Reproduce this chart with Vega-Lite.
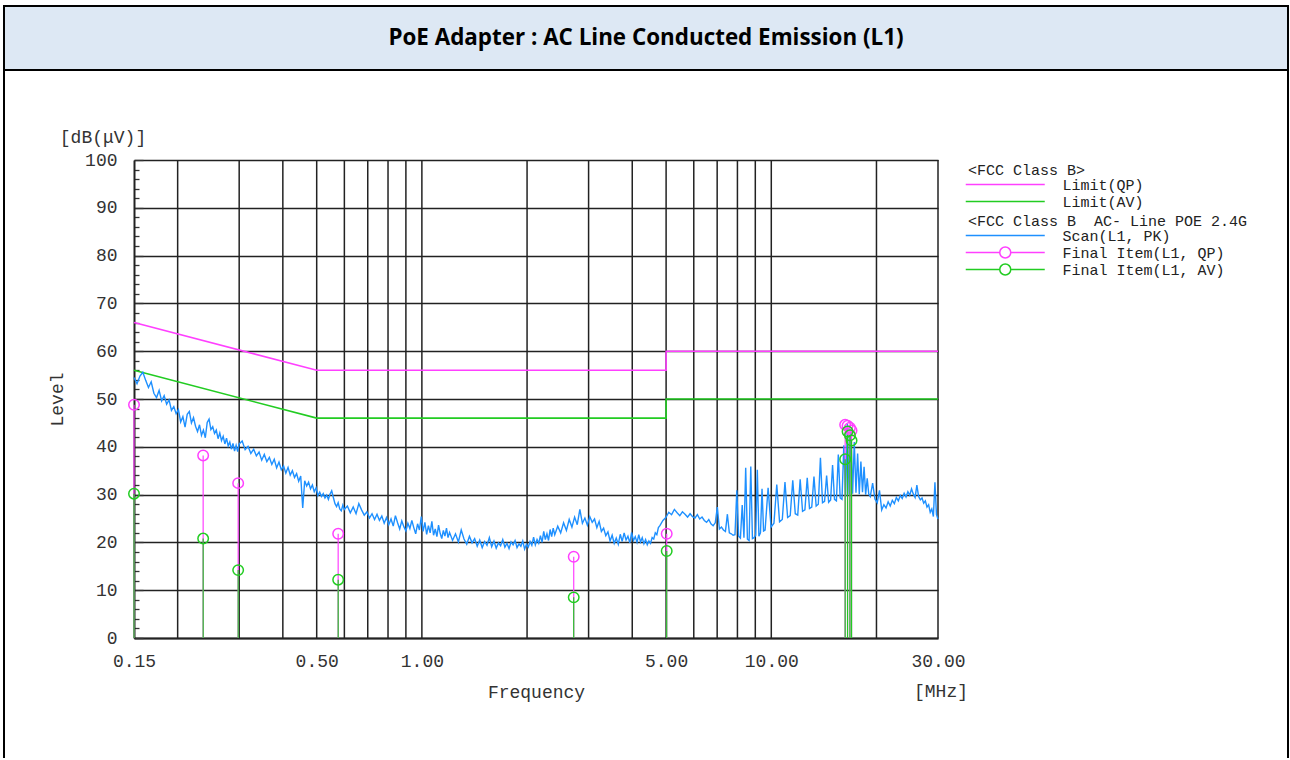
{
"$schema": "https://vega.github.io/schema/vega-lite/v6.json",
"background": "white",
"padding": {"left": 3, "top": 5, "right": 0, "bottom": 0},
"autosize": {"type": "pad"},
"spacing": 0,
"bounds": "flush",
"config": {"view": {"stroke": null}},
"datasets": {
"limits": [
{"f":0.15,"v":66,"s":"Limit(QP)","i":0},{"f":0.5,"v":56,"s":"Limit(QP)","i":1},{"f":5,"v":56,"s":"Limit(QP)","i":2},{"f":5,"v":60,"s":"Limit(QP)","i":3},{"f":30,"v":60,"s":"Limit(QP)","i":4},
{"f":0.15,"v":56,"s":"Limit(AV)","i":0},{"f":0.5,"v":46,"s":"Limit(AV)","i":1},{"f":5,"v":46,"s":"Limit(AV)","i":2},{"f":5,"v":50,"s":"Limit(AV)","i":3},{"f":30,"v":50,"s":"Limit(AV)","i":4}
],
"grid": [{"g":0.2},{"g":0.3},{"g":0.4},{"g":0.5},{"g":0.6},{"g":0.7},{"g":0.8},{"g":0.9},{"g":1},{"g":2},{"g":3},{"g":4},{"g":5},{"g":6},{"g":7},{"g":8},{"g":9},{"g":10},{"g":20},{"g":30}],
"qp": [{"f":0.15,"v":48.8},{"f":0.2366,"v":38.2},{"f":0.298,"v":32.4},{"f":0.576,"v":21.8},{"f":2.72,"v":17.0},{"f":5.02,"v":21.8},{"f":16.27,"v":44.6},{"f":16.53,"v":44.4},{"f":16.79,"v":44.0},{"f":16.97,"v":43.4}],
"av": [{"f":0.15,"v":30.2},{"f":0.2366,"v":20.8},{"f":0.298,"v":14.2},{"f":0.576,"v":12.2},{"f":2.72,"v":8.5},{"f":5.02,"v":18.2},{"f":16.27,"v":37.4},{"f":16.53,"v":43.2},{"f":16.79,"v":42.4},{"f":16.97,"v":41.3}],
"scan": [
{"f":0.150,"v":54.5},{"f":0.153,"v":53.2},{"f":0.156,"v":54.8},{"f":0.159,"v":55.6},{"f":0.162,"v":53.9},{"f":0.165,"v":52.4},{"f":0.168,"v":53.6},{"f":0.171,"v":51.2},{"f":0.174,"v":50.3},{"f":0.177,"v":51.8},
{"f":0.180,"v":49.6},{"f":0.183,"v":50.7},{"f":0.186,"v":48.9},{"f":0.189,"v":49.8},{"f":0.192,"v":47.6},{"f":0.195,"v":48.4},{"f":0.198,"v":46.9},{"f":0.201,"v":47.8},{"f":0.204,"v":45.2},{"f":0.207,"v":46.3},
{"f":0.210,"v":44.1},{"f":0.213,"v":46.8},{"f":0.216,"v":47.4},{"f":0.219,"v":45.0},{"f":0.222,"v":46.1},{"f":0.225,"v":44.3},{"f":0.228,"v":43.2},{"f":0.231,"v":44.6},{"f":0.234,"v":42.4},{"f":0.237,"v":43.5},
{"f":0.240,"v":41.9},{"f":0.243,"v":45.1},{"f":0.246,"v":45.8},{"f":0.249,"v":43.6},{"f":0.252,"v":44.2},{"f":0.255,"v":42.8},{"f":0.258,"v":43.5},{"f":0.261,"v":41.7},{"f":0.264,"v":42.9},{"f":0.267,"v":41.3},
{"f":0.270,"v":42.2},{"f":0.273,"v":40.6},{"f":0.276,"v":41.8},{"f":0.279,"v":40.2},{"f":0.282,"v":41.0},{"f":0.285,"v":39.5},{"f":0.288,"v":40.7},{"f":0.291,"v":39.1},{"f":0.294,"v":40.3},{"f":0.297,"v":39.0},
{"f":0.300,"v":40.6},{"f":0.306,"v":41.2},{"f":0.312,"v":39.4},{"f":0.318,"v":40.1},{"f":0.324,"v":38.6},{"f":0.330,"v":39.5},{"f":0.336,"v":38.1},{"f":0.342,"v":38.9},{"f":0.348,"v":37.2},{"f":0.354,"v":38.4},
{"f":0.360,"v":36.9},{"f":0.366,"v":37.8},{"f":0.372,"v":36.3},{"f":0.378,"v":37.4},{"f":0.384,"v":35.6},{"f":0.390,"v":36.8},{"f":0.396,"v":35.2},{"f":0.402,"v":36.0},{"f":0.408,"v":34.5},{"f":0.414,"v":35.7},
{"f":0.420,"v":34.1},{"f":0.426,"v":35.0},{"f":0.432,"v":33.6},{"f":0.438,"v":34.4},{"f":0.444,"v":32.8},{"f":0.450,"v":33.9},{"f":0.456,"v":27.2},{"f":0.462,"v":32.9},{"f":0.468,"v":31.8},{"f":0.474,"v":32.6},
{"f":0.480,"v":31.2},{"f":0.486,"v":32.0},{"f":0.492,"v":30.6},{"f":0.498,"v":31.4},{"f":0.504,"v":29.8},{"f":0.510,"v":30.5},{"f":0.516,"v":29.6},{"f":0.522,"v":30.2},{"f":0.528,"v":29.3},{"f":0.534,"v":29.9},
{"f":0.540,"v":29.0},{"f":0.546,"v":30.1},{"f":0.552,"v":30.8},{"f":0.558,"v":29.4},{"f":0.564,"v":28.1},{"f":0.570,"v":27.5},{"f":0.576,"v":28.3},{"f":0.582,"v":27.0},{"f":0.588,"v":26.6},{"f":0.594,"v":27.8},
{"f":0.600,"v":26.9},{"f":0.612,"v":27.6},{"f":0.624,"v":26.2},{"f":0.636,"v":27.4},{"f":0.648,"v":26.0},{"f":0.660,"v":28.1},{"f":0.672,"v":26.8},{"f":0.684,"v":25.7},{"f":0.696,"v":26.4},{"f":0.708,"v":25.1},
{"f":0.720,"v":26.0},{"f":0.732,"v":24.8},{"f":0.744,"v":25.9},{"f":0.756,"v":24.6},{"f":0.768,"v":25.5},{"f":0.780,"v":24.0},{"f":0.792,"v":25.2},{"f":0.804,"v":23.7},{"f":0.816,"v":24.9},{"f":0.828,"v":23.4},
{"f":0.840,"v":25.6},{"f":0.852,"v":24.1},{"f":0.864,"v":22.8},{"f":0.876,"v":24.5},{"f":0.888,"v":23.3},{"f":0.900,"v":22.4},{"f":0.912,"v":24.0},{"f":0.924,"v":22.9},{"f":0.936,"v":24.6},{"f":0.948,"v":23.1},
{"f":0.960,"v":21.8},{"f":0.972,"v":23.9},{"f":0.984,"v":22.6},{"f":0.996,"v":25.4},{"f":1.008,"v":22.3},{"f":1.020,"v":24.2},{"f":1.032,"v":21.7},{"f":1.044,"v":23.5},{"f":1.056,"v":22.0},{"f":1.068,"v":24.4},
{"f":1.080,"v":21.5},{"f":1.092,"v":22.8},{"f":1.104,"v":21.2},{"f":1.116,"v":23.6},{"f":1.128,"v":21.9},{"f":1.140,"v":20.8},{"f":1.152,"v":22.5},{"f":1.164,"v":21.3},{"f":1.176,"v":23.0},{"f":1.188,"v":21.0},
{"f":1.200,"v":22.1},{"f":1.224,"v":20.4},{"f":1.248,"v":21.8},{"f":1.272,"v":20.1},{"f":1.296,"v":22.6},{"f":1.320,"v":20.7},{"f":1.344,"v":19.6},{"f":1.368,"v":21.3},{"f":1.392,"v":19.9},{"f":1.416,"v":20.8},
{"f":1.440,"v":19.2},{"f":1.464,"v":20.5},{"f":1.488,"v":18.9},{"f":1.512,"v":20.2},{"f":1.536,"v":19.4},{"f":1.560,"v":21.0},{"f":1.584,"v":19.1},{"f":1.608,"v":20.3},{"f":1.632,"v":18.8},{"f":1.656,"v":19.9},
{"f":1.680,"v":19.3},{"f":1.704,"v":20.6},{"f":1.728,"v":19.0},{"f":1.752,"v":19.8},{"f":1.776,"v":18.7},{"f":1.800,"v":20.1},{"f":1.824,"v":19.5},{"f":1.848,"v":20.4},{"f":1.872,"v":18.9},{"f":1.896,"v":19.7},
{"f":1.920,"v":19.2},{"f":1.944,"v":20.3},{"f":1.968,"v":18.6},{"f":1.992,"v":19.6},{"f":2.016,"v":19.0},{"f":2.040,"v":20.2},{"f":2.064,"v":19.4},{"f":2.088,"v":21.1},{"f":2.112,"v":19.5},{"f":2.136,"v":20.6},
{"f":2.160,"v":19.8},{"f":2.184,"v":21.4},{"f":2.208,"v":20.0},{"f":2.232,"v":22.3},{"f":2.256,"v":20.6},{"f":2.280,"v":21.8},{"f":2.304,"v":20.4},{"f":2.328,"v":22.7},{"f":2.352,"v":21.2},{"f":2.376,"v":23.0},
{"f":2.400,"v":21.6},{"f":2.448,"v":23.4},{"f":2.496,"v":22.0},{"f":2.544,"v":24.1},{"f":2.592,"v":22.5},{"f":2.640,"v":24.8},{"f":2.688,"v":23.2},{"f":2.736,"v":25.3},{"f":2.784,"v":23.7},{"f":2.832,"v":26.9},
{"f":2.880,"v":24.0},{"f":2.928,"v":25.1},{"f":2.976,"v":23.6},{"f":3.024,"v":25.4},{"f":3.072,"v":24.2},{"f":3.120,"v":24.9},{"f":3.168,"v":23.1},{"f":3.216,"v":24.4},{"f":3.264,"v":22.3},{"f":3.312,"v":23.0},
{"f":3.360,"v":21.4},{"f":3.408,"v":22.2},{"f":3.456,"v":20.3},{"f":3.504,"v":21.5},{"f":3.552,"v":19.8},{"f":3.600,"v":20.9},{"f":3.648,"v":19.6},{"f":3.696,"v":21.7},{"f":3.744,"v":20.2},{"f":3.792,"v":22.0},
{"f":3.840,"v":20.5},{"f":3.888,"v":21.3},{"f":3.936,"v":19.9},{"f":3.984,"v":22.1},{"f":4.032,"v":20.4},{"f":4.080,"v":21.2},{"f":4.128,"v":20.0},{"f":4.176,"v":21.6},{"f":4.224,"v":20.1},{"f":4.272,"v":21.0},
{"f":4.320,"v":19.7},{"f":4.368,"v":20.6},{"f":4.416,"v":19.5},{"f":4.464,"v":20.3},{"f":4.512,"v":19.8},{"f":4.560,"v":21.0},{"f":4.608,"v":20.7},{"f":4.656,"v":22.0},{"f":4.704,"v":21.6},{"f":4.752,"v":23.1},
{"f":4.800,"v":23.5},{"f":4.896,"v":24.6},{"f":4.992,"v":25.2},{"f":5.088,"v":26.3},{"f":5.184,"v":25.8},{"f":5.280,"v":26.9},{"f":5.376,"v":26.2},{"f":5.472,"v":25.6},{"f":5.568,"v":26.4},{"f":5.664,"v":25.9},
{"f":5.760,"v":25.3},{"f":5.856,"v":26.0},{"f":5.952,"v":25.4},{"f":6.048,"v":25.1},{"f":6.144,"v":25.8},{"f":6.240,"v":24.9},{"f":6.336,"v":25.3},{"f":6.432,"v":24.6},{"f":6.528,"v":24.2},{"f":6.624,"v":24.8},
{"f":6.720,"v":23.9},{"f":6.816,"v":23.5},{"f":6.912,"v":24.1},{"f":7.008,"v":27.4},{"f":7.104,"v":22.8},{"f":7.200,"v":23.2},{"f":7.296,"v":22.6},{"f":7.392,"v":22.3},{"f":7.488,"v":25.9},{"f":7.584,"v":22.0},
{"f":7.680,"v":21.8},{"f":7.776,"v":21.5},{"f":7.872,"v":21.6},{"f":7.968,"v":30.9},{"f":8.064,"v":21.3},{"f":8.160,"v":20.9},{"f":8.256,"v":27.8},{"f":8.352,"v":21.0},{"f":8.448,"v":35.6},{"f":8.544,"v":20.7},
{"f":8.640,"v":20.4},{"f":8.736,"v":35.9},{"f":8.832,"v":20.8},{"f":8.928,"v":21.0},{"f":9.024,"v":21.5},{"f":9.120,"v":35.2},{"f":9.216,"v":21.3},{"f":9.312,"v":22.0},{"f":9.408,"v":31.2},{"f":9.504,"v":22.4},
{"f":9.600,"v":22.6},{"f":9.792,"v":31.4},{"f":9.984,"v":23.2},{"f":10.176,"v":24.0},{"f":10.368,"v":32.1},{"f":10.560,"v":24.3},{"f":10.752,"v":24.8},{"f":10.944,"v":32.6},{"f":11.136,"v":25.2},{"f":11.328,"v":25.6},
{"f":11.520,"v":33.0},{"f":11.712,"v":26.0},{"f":11.904,"v":25.7},{"f":12.096,"v":33.2},{"f":12.288,"v":26.5},{"f":12.480,"v":26.8},{"f":12.672,"v":33.5},{"f":12.864,"v":27.1},{"f":13.056,"v":27.4},{"f":13.248,"v":33.8},
{"f":13.440,"v":27.6},{"f":13.632,"v":28.0},{"f":13.824,"v":37.7},{"f":14.016,"v":28.3},{"f":14.208,"v":28.6},{"f":14.400,"v":34.0},{"f":14.592,"v":28.4},{"f":14.784,"v":28.9},{"f":14.976,"v":36.2},{"f":15.168,"v":29.0},
{"f":15.360,"v":28.7},{"f":15.552,"v":38.4},{"f":15.744,"v":29.3},{"f":15.936,"v":29.0},{"f":16.128,"v":40.3},{"f":16.320,"v":29.6},{"f":16.512,"v":44.8},{"f":16.704,"v":30.0},{"f":16.896,"v":43.2},{"f":17.088,"v":30.2},
{"f":17.280,"v":41.0},{"f":17.472,"v":30.4},{"f":17.664,"v":38.6},{"f":17.856,"v":30.1},{"f":18.048,"v":36.9},{"f":18.240,"v":30.5},{"f":18.432,"v":35.8},{"f":18.624,"v":30.0},{"f":18.816,"v":33.4},{"f":19.008,"v":30.1},
{"f":19.200,"v":29.6},{"f":19.500,"v":32.4},{"f":19.800,"v":29.1},{"f":20.100,"v":28.3},{"f":20.400,"v":30.9},{"f":20.700,"v":26.8},{"f":21.000,"v":27.9},{"f":21.300,"v":27.2},{"f":21.600,"v":28.5},{"f":21.900,"v":27.6},
{"f":22.200,"v":28.8},{"f":22.500,"v":28.1},{"f":22.800,"v":29.4},{"f":23.100,"v":28.7},{"f":23.400,"v":29.8},{"f":23.700,"v":29.2},{"f":24.000,"v":30.3},{"f":24.300,"v":29.5},{"f":24.600,"v":30.6},{"f":24.900,"v":29.9},
{"f":25.200,"v":31.2},{"f":25.500,"v":30.1},{"f":25.800,"v":29.4},{"f":26.100,"v":32.0},{"f":26.400,"v":29.6},{"f":26.700,"v":28.9},{"f":27.000,"v":29.3},{"f":27.300,"v":28.2},{"f":27.600,"v":28.7},{"f":27.900,"v":27.4},
{"f":28.200,"v":27.9},{"f":28.500,"v":26.3},{"f":28.800,"v":27.0},{"f":29.100,"v":25.4},{"f":29.400,"v":32.6},{"f":29.700,"v":25.8},{"f":30.000,"v":24.9}
]
},
"vconcat": [
{
"width": 1284, "height": 64,
"view": {"fill": "#dde8f4", "stroke": "#000000", "strokeWidth": 2},
"data": {"values": [{"t": "PoE Adapter : AC Line Conducted Emission (L1)"}]},
"mark": {"type": "text", "font": "Open Sans", "fontWeight": "bold", "fontSize": 22.4, "color": "#000000", "align": "center", "baseline": "middle"},
"encoding": {"text": {"field": "t", "type": "nominal"}}
},
{
"width": 1284, "height": 688,
"view": {"stroke": "#000000", "strokeWidth": 2, "strokeDash": [688, 1284], "strokeDashOffset": 688},
"layer": [
{
"data": {"name": "grid"},
"mark": {"type": "rule", "color": "#222222", "strokeWidth": 1.5},
"encoding": {
"x": {"field": "g", "type": "quantitative",
 "scale": {"type": "log", "domain": [0.15, 30], "range": [130, 934], "nice": false},
 "axis": {"orient": "bottom", "offset": -120,
  "values": [0.15,0.2,0.3,0.4,0.5,0.6,0.7,0.8,0.9,1,2,3,4,5,6,7,8,9,10,20,30],
  "labelExpr": "indexof([0.15,0.5,1,5,10,30], datum.value) >= 0 ? format(datum.value, '.2f') : ''",
  "ticks": false, "grid": false,
  "domainColor": "#222222", "domainWidth": 2,
  "labelFont": "Liberation Mono", "labelFontSize": 18, "labelColor": "#333333", "labelPadding": 14, "labelFlush": false, "labelOverlap": false, "labelBaseline": "top",
  "title": "Frequency", "titleFont": "Liberation Mono", "titleFontSize": 18, "titleFontWeight": "normal", "titleColor": "#333333", "titlePadding": 13}},
"y": {"datum": 0,
 "scale": {"domain": [0, 100], "range": [568, 90], "nice": false, "zero": false},
 "axis": {"orient": "left", "offset": -130,
  "values": [0,2,4,6,8,10,12,14,16,18,20,22,24,26,28,30,32,34,36,38,40,42,44,46,48,50,52,54,56,58,60,62,64,66,68,70,72,74,76,78,80,82,84,86,88,90,92,94,96,98,100],
  "tickCount": 200,
  "labelExpr": "datum.value % 10 === 0 ? format(datum.value, 'd') : ''",
  "tickSize": {"condition": {"test": "datum.value % 10 === 0", "value": -9}, "value": -5},
  "tickColor": "#333333", "tickWidth": 1.3,
  "grid": true,
  "gridOpacity": {"condition": {"test": "datum.value % 10 === 0", "value": 1}, "value": 0},
  "gridColor": "#222222", "gridWidth": 1.5,
  "domainColor": "#222222", "domainWidth": 2,
  "labelFont": "Liberation Mono", "labelFontSize": 18, "labelColor": "#333333", "labelPadding": 26, "labelFlush": false, "labelOverlap": false,
  "title": "Level", "titleFont": "Liberation Mono", "titleFontSize": 18, "titleFontWeight": "normal", "titleColor": "#333333", "titlePadding": 18}},
"y2": {"datum": 100}
}
},
{
"data": {"name": "limits"},
"mark": {"type": "line", "strokeWidth": 1.6},
"encoding": {
"x": {"field": "f", "type": "quantitative"},
"y": {"field": "v", "type": "quantitative"},
"order": {"field": "i", "type": "quantitative"},
"stroke": {"field": "s", "type": "nominal",
 "scale": {"domain": ["Limit(QP)", "Limit(AV)"], "range": ["#ff40ff", "#22cc22"]},
 "legend": {"title": "<FCC Class B>", "orient": "none", "legendX": 964, "legendY": 157, "direction": "vertical",
  "symbolType": "M-5.1,0H5.1", "symbolSize": 240, "symbolStrokeWidth": 1.5, "symbolFillColor": "transparent",
  "symbolOffset": 28.75, "labelOffset": 48.75, "rowPadding": 0, "titlePadding": -2, "padding": 0,
  "titleFont": "Liberation Mono", "titleFontSize": 15, "titleFontWeight": "normal", "titleColor": "#222222", "titleLimit": 400,
  "labelFont": "Liberation Mono", "labelFontSize": 15, "labelColor": "#222222", "labelLimit": 400}}
}
},
{
"data": {"name": "scan"},
"mark": {"type": "line", "strokeWidth": 1.4},
"encoding": {
"x": {"field": "f", "type": "quantitative"},
"y": {"field": "v", "type": "quantitative"},
"color": {"datum": "Scan(L1, PK)", "type": "nominal",
 "scale": {"domain": ["Scan(L1, PK)", "Final Item(L1, QP)", "Final Item(L1, AV)"], "range": ["#1e90ff", "#ff40ff", "#22cc22"]},
 "legend": {"title": "<FCC Class B\u00a0 AC- Line POE 2.4G", "orient": "none", "legendX": 964, "legendY": 208, "direction": "vertical",
  "symbolSize": 240, "symbolStrokeWidth": 1.5, "symbolFillColor": "transparent",
  "symbolOffset": 28.75, "labelOffset": 48.75, "rowPadding": 0, "titlePadding": -2, "padding": 0,
  "titleFont": "Liberation Mono", "titleFontSize": 15, "titleFontWeight": "normal", "titleColor": "#222222", "titleLimit": 400,
  "labelFont": "Liberation Mono", "labelFontSize": 15, "labelColor": "#222222", "labelLimit": 400,
  "encode": {"symbols": {"update": {
   "shape": {"signal": "datum.value === 'Scan(L1, PK)' ? 'M-5.1,0H5.1' : 'M-5.1,0H-0.71M0.71,0H5.1M0.71,0A0.71,0.71,0,1,1,-0.71,0A0.71,0.71,0,1,1,0.71,0'"},
   "fill": {"value": "transparent"}}}}}}
}
},
{
"data": {"name": "qp"},
"mark": {"type": "rule", "strokeWidth": 1.2},
"encoding": {"x": {"field": "f", "type": "quantitative"}, "y": {"field": "v", "type": "quantitative"}, "y2": {"datum": 0}, "color": {"datum": "Final Item(L1, QP)", "type": "nominal"}}
},
{
"data": {"name": "av"},
"mark": {"type": "rule", "strokeWidth": 1.2},
"encoding": {"x": {"field": "f", "type": "quantitative"}, "y": {"field": "v", "type": "quantitative"}, "y2": {"datum": 0}, "color": {"datum": "Final Item(L1, AV)", "type": "nominal"}}
},
{
"data": {"name": "qp"},
"mark": {"type": "point", "shape": "circle", "filled": false, "size": 110, "strokeWidth": 1.5, "opacity": 1},
"encoding": {"x": {"field": "f", "type": "quantitative"}, "y": {"field": "v", "type": "quantitative"}, "color": {"datum": "Final Item(L1, QP)", "type": "nominal"}}
},
{
"data": {"name": "av"},
"mark": {"type": "point", "shape": "circle", "filled": false, "size": 110, "strokeWidth": 1.5, "opacity": 1},
"encoding": {"x": {"field": "f", "type": "quantitative"}, "y": {"field": "v", "type": "quantitative"}, "color": {"datum": "Final Item(L1, AV)", "type": "nominal"}}
},
{
"data": {"values": [{"t": "[dB(μV)]"}]},
"mark": {"type": "text", "font": "Liberation Mono", "fontSize": 18, "color": "#333333", "dx": -31, "dy": -22, "align": "center", "baseline": "middle"},
"encoding": {"x": {"datum": 0.15}, "y": {"datum": 100}, "text": {"field": "t", "type": "nominal"}}
},
{
"data": {"values": [{"t": "[MHz]"}]},
"mark": {"type": "text", "font": "Liberation Mono", "fontSize": 18, "color": "#333333", "dx": 3, "dy": 54, "align": "center", "baseline": "middle"},
"encoding": {"x": {"datum": 30}, "y": {"datum": 0}, "text": {"field": "t", "type": "nominal"}}
}
]
}
]
}
